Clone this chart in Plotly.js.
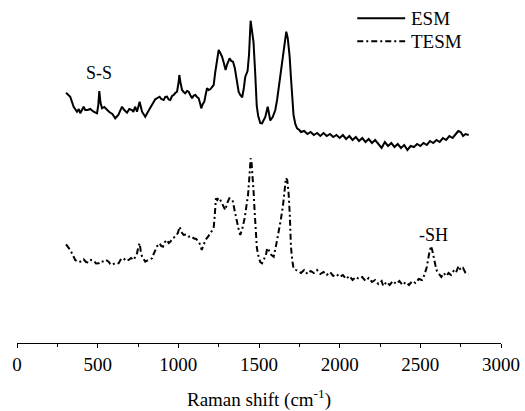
<!DOCTYPE html>
<html>
<head>
<meta charset="utf-8">
<script src="https://cdn.plot.ly/plotly-3.0.1.min.js"></script>
<style>
html,body{margin:0;padding:0;background:#fff;}
#chart{width:525px;height:411px;}
#chart text, #chart tspan{font-family:"Liberation Serif","DejaVu Serif",serif !important;}
#diag{position:absolute;left:0;top:0;width:10px;height:10px;font:10px "Liberation Serif";color:rgba(0,0,0,0);}
</style>
</head>
<body>
<div id="chart"></div>
<div id="diag"></div>
<script>
// ESM spectrum: Raman shift (cm-1) and intensity (arbitrary units, offset)
const esmShift = [304,330,351,372,383,392,413,423,438,454,475,496,504,510,518,527,541,558,572,591,609,628,651,665,682,696,713,721,732,744,760,775,783,795,811,826,842,857,870,884,894,909,919,930,940,950,961,971,981,992,1002,1006,1014,1023,1033,1043,1054,1064,1074,1085,1095,1105,1116,1126,1136,1142,1152,1161,1169,1178,1188,1198,1209,1219,1229,1240,1250,1260,1271,1282,1293,1303,1318,1328,1339,1350,1364,1374,1384,1396,1406,1415,1429,1438,1448,1455,1466,1477,1486,1495,1508,1519,1529,1539,1554,1570,1585,1601,1612,1622,1632,1642,1653,1663,1669,1678,1690,1697,1704,1714,1725,1736,
1750,1760,1780,1800,1820,1840,1860,1880,1900,1920,1940,1960,1980,2000,2020,2040,2060,2080,2100,2120,2140,2160,2180,2200,2220,2240,2260,2280,2300,2320,2340,2360,2380,2400,2420,2440,2460,2480,2500,2520,2540,2560,2580,2600,2620,2640,2660,2680,2700,2720,2735,2750,2765,2780,2800];
const esmIntensity = [250.3,246.3,236.3,231.3,234,229.7,236.3,233,233,234,231.3,229.7,238,252,240,234.7,236,233,231,229,224.7,228,236.3,233,230.3,234,233,231,236.3,231.3,241.3,231.3,229,226.3,231,234.7,240,243.7,245,246.3,244,243,246,246.3,243.5,243,247,248,250,251.3,261,268,260,253,251,249.7,252,251.3,248,244.7,247.5,248,246,244.7,239,234.7,239,241.3,248,254.7,253,253.7,256,258,271,283,293,290,286.3,280,273,279,284.7,282,281.3,275,261.3,251,248,245.7,255,266.3,272,288,322.3,315,301,268,237,227,220,219.7,223,226,236.3,222.5,226,233,243,254.7,265,276.3,293,306,311.3,305,286.3,268,249.7,228,219,214.7,
213,211,212,209,211,208,210,207,210,207,209,206,208,205,208,204,207,203,206,202,205,201,204,200,203,199,195,201,197,200,196,199,195,198,193,197,196,199,197,200,198,202,200,203,201,205,203,207,205,209,212,211,207,209,208];

// TESM spectrum
const tesmShift = [304,330,346,361,377,392,413,428,444,459,475,490,506,521,537,552,568,578,589,609,630,645,661,676,692,707,723,733,744,752,760,767,775,785,795,814,837,847,857,869,884,894,905,917,930,940,950,966,981,997,1008,1019,1033,1048,1064,1079,1095,1110,1126,1136,1145,1155,1168,1183,1198,1209,1219,1226,1233,1241,1250,1260,1271,1281,1291,1303,1316,1326,1336,1347,1359,1372,1384,1396,1411,1421,1432,1440,1448,1454,1460,1467,1473,1480,1487,1499,1508,1519,1529,1543,1551,1560,1570,1581,1591,1604,1622,1635,1649,1659,1667,1675,1683,1691,1698,1706,1714,1730,1745,
1760,1780,1800,1820,1840,1860,1880,1900,1920,1940,1960,1980,2000,2020,2040,2060,2080,2100,2120,2140,2160,2180,2200,2220,2240,2260,2270,2290,2310,2330,2350,2370,2390,2410,2430,2450,2470,2490,2510,2525,2540,2553,2566,2575,2583,2593,2603,2615,2630,2645,2660,2675,2690,2706,2720,2737,2750,2765,2780,2799];
const tesmIntensity = [98.7,93,88,83,81,81.3,83.7,81,80.3,83,82.3,79.5,79.7,82,81.3,83,81.3,79,78,80,79.7,84,84.7,82,83,85,83,87,89.7,96,99.7,92,86.3,84,81.3,83,84.7,89,93,97,99.7,97,96.3,101,103,100,101.3,105,106.3,110,116.3,111,108,108.5,106.3,107,104.7,104,101.3,98,93,97,103,106,109.7,113,115,128,144.7,143,145.3,143,139.7,136,133,140,144.7,144,143,134,123,115,108,114,124.7,135,148,165,184.7,180,168,150,131.3,111,94.7,85,81,79.7,84,88,95,93,89,88,86.3,96,109.7,123,138,153,165,163,151,128,96.3,83,74.7,73,71.3,
70,73,69,72,70,73,69,71,68,71,67,69,66,68,64,67,63,66,64,66,62,65,61,63,59,62,57,61,58,62,59,62,58,61,58,62,60,64,63,68,76,88,97,92,85,78,72,69,66,70,67,70,68,72,70,77,73,75,70,69];

const seriesNames = ["ESM", "TESM"];
const xTicks = [0, 500, 1000, 1500, 2000, 2500, 3000];
const peakLabels = ["S-S", "-SH"];
const peakShift = [510, 2580];
const peakIntensity = [270, 108];

const FAM = "Liberation Serif";
const DASHDOT = "6px,3px,2px,3px";

const traces = [
  {x: esmShift, y: esmIntensity, mode: "lines", name: seriesNames[0], line: {color: "#000", width: 2}},
  {x: tesmShift, y: tesmIntensity, mode: "lines", name: seriesNames[1], line: {color: "#000", width: 2, dash: DASHDOT}}
];

// legend drawn in paper coordinates
const legY = [0.947, 0.880];
const shapes = [
  {type: "line", xref: "paper", yref: "paper", x0: 0.703, x1: 0.802, y0: legY[0], y1: legY[0], line: {color: "#000", width: 2}},
  {type: "line", xref: "paper", yref: "paper", x0: 0.703, x1: 0.802, y0: legY[1], y1: legY[1], line: {color: "#000", width: 2, dash: DASHDOT}}
];
const annotations = [
  {xref: "paper", yref: "paper", x: 0.810, y: legY[0], xanchor: "left", yanchor: "middle", text: seriesNames[0], showarrow: false, font: {family: FAM, size: 19}},
  {xref: "paper", yref: "paper", x: 0.810, y: legY[1], xanchor: "left", yanchor: "middle", text: seriesNames[1], showarrow: false, font: {family: FAM, size: 19}}
];
for (let i = 0; i < peakLabels.length; i++) {
  annotations.push({x: peakShift[i], y: peakIntensity[i], xref: "x", yref: "y", text: peakLabels[i], showarrow: false,
    xanchor: "center", yanchor: "middle", font: {family: FAM, size: 18}});
}

const layout = {
  width: 525, height: 411,
  margin: {l: 17, r: 24, t: 0, b: 68},
  showlegend: false,
  font: {family: FAM, size: 19, color: "black"},
  xaxis: {
    range: [0, 3000], tickvals: xTicks, ticktext: xTicks.map(String),
    showline: true, linecolor: "black", ticks: "outside", ticklen: 4, tickcolor: "black",
    minor: {dtick: 250, tick0: 0, ticks: "outside", ticklen: 3, tickcolor: "black"},
    showgrid: false, zeroline: false,
    tickfont: {family: FAM, size: 19},
    title: {text: "Raman shift (cm<sup>-1</sup>)", font: {family: FAM, size: 19}, standoff: 18}
  },
  yaxis: {range: [0, 343], visible: false},
  shapes: shapes,
  annotations: annotations
};

function forceSerif() {
  document.querySelectorAll('#chart text').forEach(function (t) {
    t.style.setProperty('font-family', '"Liberation Serif", "DejaVu Serif", serif', 'important');
  });
  document.getElementById('diag').textContent = "\u00a0";
}

try {
  const p = Plotly.newPlot("chart", traces, layout, {displayModeBar: false, staticPlot: true});
  forceSerif();
  if (p && p.then) p.then(forceSerif);
} catch (e) {}
setTimeout(forceSerif, 50);
</script>
</body>
</html>
